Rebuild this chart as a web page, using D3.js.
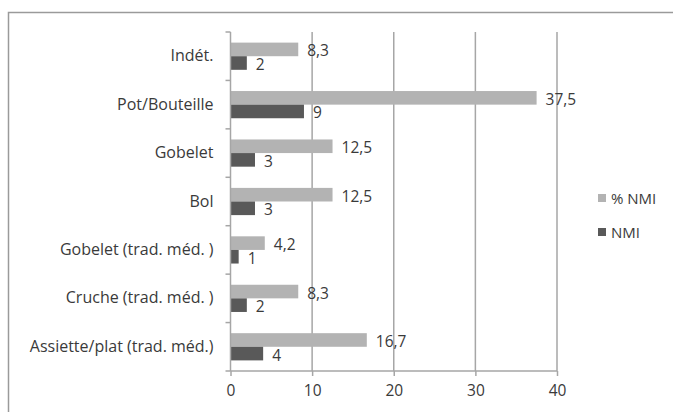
<!DOCTYPE html>
<html><head><meta charset="utf-8">
<script src="https://cdn.jsdelivr.net/npm/d3@7"></script>
<style>
body{margin:0;background:#fff;}
text{font-family:"Open Sans",sans-serif;fill:#3a3a3a;}
</style></head>
<body><svg id="c" width="673" height="412"></svg>
<script>
const categories = ["Indét.", "Pot/Bouteille", "Gobelet", "Bol", "Gobelet (trad. méd. )", "Cruche (trad. méd. )", "Assiette/plat (trad. méd.)"];
const pctNMI = [8.3, 37.5, 12.5, 12.5, 4.2, 8.3, 16.7];
const nmi = [2, 9, 3, 3, 1, 2, 4];
const seriesNames = ["% NMI", "NMI"];
const xTicks = [0, 10, 20, 30, 40];

const colors = ["#b3b3b3", "#595959"];
const fs = 16;
const svg = d3.select("#c");
svg.append("rect").attr("x", 8.5).attr("y", 12.5).attr("width", 680).attr("height", 420)
  .attr("fill", "#fff").attr("stroke", "#9a9a9a").attr("stroke-width", 1.5);

const pLeft = 230.5, pRight = 557, pTop = 32, pBottom = 371;
const x = d3.scaleLinear().domain([0, 40]).range([pLeft, pRight]);
const y = d3.scaleBand().domain(categories).range([pTop, pBottom]);
const sub = d3.scaleBand().domain(seriesNames).range([0, y.bandwidth()]).paddingOuter(0.78).paddingInner(0);

const g = svg.append("g");
g.selectAll(".grid").data(xTicks.slice(1)).join("line")
  .attr("x1", d => x(d)).attr("x2", d => x(d)).attr("y1", pTop).attr("y2", pBottom)
  .attr("stroke", "#a6a6a6").attr("stroke-width", 1.5);

const xfmt = d => d3.format(".1f")(d).replace(".", ",");
const data = categories.map((c, i) => ({c, vals: [pctNMI[i], nmi[i]]}));
data.forEach(d => {
  d.vals.forEach((v, j) => {
    const yy = y(d.c) + sub(seriesNames[j]);
    g.append("rect").attr("x", x(0)).attr("y", yy).attr("width", x(v) - x(0)).attr("height", sub.bandwidth())
      .attr("fill", colors[j]);
    g.append("text").attr("x", x(v) + 9).attr("y", yy + sub.bandwidth() / 2 + 7)
      .attr("font-size", 15.5).text(j === 0 ? xfmt(v) : v);
  });
});

const xAxis = d3.axisBottom(x).tickValues(xTicks).tickSize(5).tickPadding(9).tickFormat(d3.format("d"));
const ax = svg.append("g").attr("transform", `translate(0,${pBottom})`).call(xAxis);
ax.select(".domain").attr("stroke", "#a6a6a6").attr("stroke-width", 1.5).attr("d", `M${pLeft},0H${pRight}`);
ax.selectAll(".tick line").attr("stroke", "#a6a6a6").attr("stroke-width", 1.5);
ax.selectAll(".tick text").attr("font-size", 15.5).attr("fill", "#3a3a3a").style("font-family", "Open Sans");

const yAxis = d3.axisLeft(y).tickSize(0).tickPadding(17);
const ay = svg.append("g").attr("transform", `translate(${pLeft},0)`).call(yAxis);
ay.select(".domain").attr("stroke", "#a6a6a6").attr("stroke-width", 1.5).attr("d", `M0,${pTop}V${pBottom}`);
ay.selectAll(".tick text").attr("font-size", fs).attr("fill", "#3a3a3a").style("font-family", "Open Sans");
const bounds = categories.map(c => y(c)).concat([pBottom]);
ay.selectAll(".bt").data(bounds).join("line")
  .attr("x1", -5).attr("x2", 0).attr("y1", d => d).attr("y2", d => d)
  .attr("stroke", "#a6a6a6").attr("stroke-width", 1.5);

const lg = svg.append("g");
seriesNames.forEach((s, i) => {
  const ly = 198 + i * 34;
  lg.append("rect").attr("x", 598).attr("y", ly - 4).attr("width", 8).attr("height", 8).attr("fill", colors[i]);
  lg.append("text").attr("x", 611).attr("y", ly + 5.5).attr("font-size", 15).text(s);
});
</script></body></html>
